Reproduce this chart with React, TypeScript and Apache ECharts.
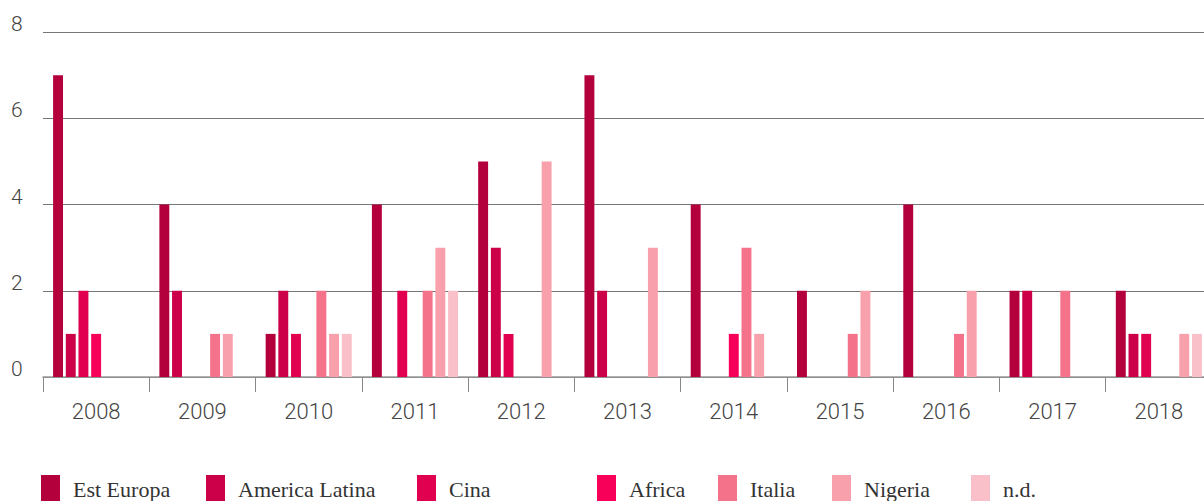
import React, { useEffect, useRef } from "react";
import * as echarts from "echarts";

const years = ["2008", "2009", "2010", "2011", "2012", "2013", "2014", "2015", "2016", "2017", "2018"];
const seriesNames = ["Est Europa", "America Latina", "Cina", "Africa", "Italia", "Nigeria", "n.d."];
const estEuropa = [7, 4, 1, 4, 5, 7, 4, 2, 4, 2, 2];
const americaLatina = [1, 2, 2, 0, 3, 2, 0, 0, 0, 2, 1];
const cina = [2, 0, 1, 2, 1, 0, 0, 0, 0, 0, 1];
const africa = [1, 0, 0, 0, 0, 0, 1, 0, 0, 0, 0];
const italia = [0, 1, 2, 2, 0, 0, 3, 1, 1, 2, 0];
const nigeria = [0, 1, 1, 3, 5, 3, 1, 2, 2, 0, 1];
const nd = [0, 0, 1, 2, 0, 0, 0, 0, 0, 0, 1];
const seriesValues = [estEuropa, americaLatina, cina, africa, italia, nigeria, nd];
const colors = ["#B3003C", "#CC0049", "#E0004F", "#F7005A", "#F4728A", "#F8A0AB", "#FAC0C9"];
const legendLefts = [41, 206, 417, 597, 718, 832, 971];

export default function App() {
  const ref = useRef<HTMLDivElement>(null);
  useEffect(() => {
    if (!ref.current) return;
    const chart = echarts.init(ref.current, null, { renderer: "svg" });
    chart.setOption({
      animation: false,
      grid: { left: 43, right: 0, top: 32, bottom: 124, containLabel: false },
      xAxis: {
        type: "category",
        data: years,
        axisLine: { lineStyle: { color: "#999", width: 1.5 } },
        axisTick: { show: true, length: 15, interval: 0, lineStyle: { color: "#888", width: 1 } },
        axisLabel: {
          margin: 23,
          color: "#444",
          fontSize: 22,
          fontWeight: 300,
          fontFamily: "Roboto, Liberation Sans, Arial, sans-serif",
          interval: 0,
        },
      },
      yAxis: {
        type: "value",
        min: 0,
        max: 8,
        interval: 2,
        axisLine: { show: false },
        axisTick: { show: false },
        splitLine: { lineStyle: { color: "#777", width: 1 } },
        axisLabel: {
          align: "left",
          margin: 32,
          color: "#444",
          fontSize: 21,
          fontWeight: 300,
          lineHeight: 16,
          fontFamily: "Roboto, Liberation Sans, Arial, sans-serif",
          verticalAlign: "bottom",
        },
      },
      legend: seriesNames.map((name, i) => ({
        data: [name],
        left: legendLefts[i],
        top: 475,
        padding: 0,
        itemWidth: 19,
        itemHeight: 28,
        icon: "rect",
        selectedMode: false,
        textStyle: {
          fontFamily: "Liberation Serif, serif",
          fontSize: 22,
          color: "#333",
          padding: [0, 0, 0, 8],
        },
      })),
      series: seriesNames.map((name, i) => ({
        name,
        type: "bar",
        data: seriesValues[i],
        barGap: "28%",
        barCategoryGap: "19%",
        itemStyle: { color: colors[i] },
      })),
    });
    return () => chart.dispose();
  }, []);
  return (
    <div style={{ position: "fixed", left: 0, top: 0, width: 1204, height: 501, overflow: "hidden", background: "#fff" }}>
      <div ref={ref} style={{ width: 1212, height: 501 }} />
    </div>
  );
}
